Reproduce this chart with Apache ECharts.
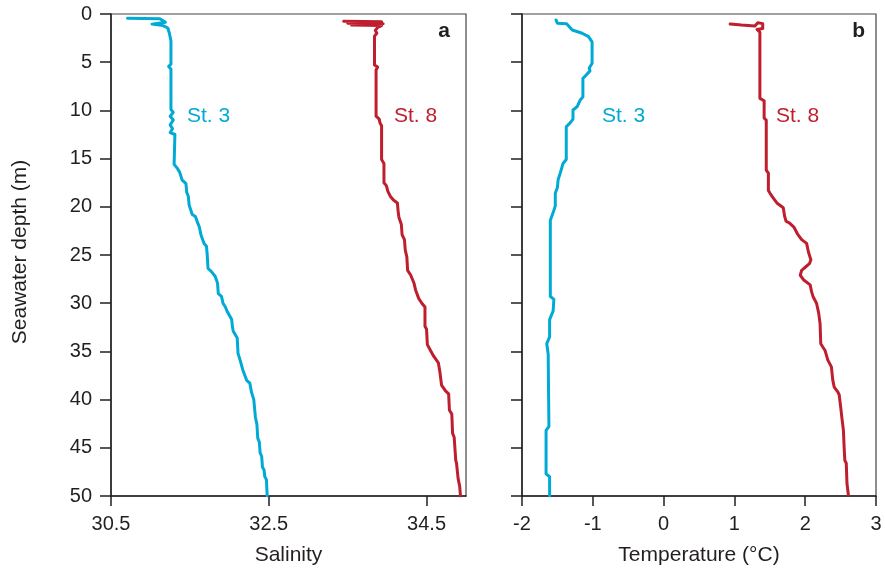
<!DOCTYPE html>
<html>
<head>
<meta charset="utf-8">
<script src="https://cdn.jsdelivr.net/npm/echarts@6/dist/echarts.min.js"></script>
<style>html,body{margin:0;padding:0;background:#fff;}#c{width:885px;height:571px;}</style>
</head>
<body>
<div id="c"></div>
<script>
// Depth ticks (m)
const depthTicks = [0,5,10,15,20,25,30,35,40,45,50];
const salinityTicks = [30.5, 32.5, 34.5];
const temperatureTicks = [-2,-1,0,1,2,3];

// Salinity profiles: [salinity, depth]
const salinitySt3 = [[30.71,0.45],[31.12,0.5],[31.19,0.85],[31.02,1.05],[31.16,1.2],[31.22,1.45],[31.24,2.0],[31.26,2.8],[31.28,3.0],[31.26,3.3],[31.26,5.2],[31.23,5.45],[31.26,5.7],[31.26,9.9],[31.29,10.2],[31.25,10.6],[31.29,11.0],[31.25,11.5],[31.28,11.9],[31.25,12.3],[31.31,12.5],[31.30,15.6],[31.34,16.0],[31.37,16.4],[31.40,17.2],[31.45,17.6],[31.46,18.5],[31.48,18.9],[31.49,19.8],[31.51,20.3],[31.53,20.8],[31.57,21.0],[31.60,21.7],[31.62,22.1],[31.64,22.9],[31.65,23.1],[31.68,23.8],[31.71,24.1],[31.72,25.0],[31.73,26.4],[31.77,26.7],[31.82,27.2],[31.85,27.9],[31.86,29.0],[31.90,29.3],[31.92,30.0],[31.95,30.4],[31.97,30.8],[31.99,31.0],[32.03,31.7],[32.04,32.5],[32.05,32.9],[32.10,33.6],[32.11,35.2],[32.14,36.0],[32.17,36.9],[32.22,38.0],[32.26,38.3],[32.28,39.2],[32.31,40.0],[32.33,41.8],[32.35,42.6],[32.36,44.0],[32.38,44.4],[32.39,45.5],[32.41,45.9],[32.42,47.0],[32.44,47.3],[32.45,48.0],[32.47,48.3],[32.48,50.0]];
const salinitySt8 = [[33.45,0.75],[33.93,0.8],[33.5,0.95],[33.95,1.0],[33.55,1.15],[33.93,1.2],[33.88,1.4],[33.85,1.7],[33.87,2.0],[33.84,2.3],[33.84,5.3],[33.88,5.5],[33.86,5.8],[33.86,10.6],[33.90,10.9],[33.91,11.3],[33.93,11.6],[33.93,15.1],[33.96,15.5],[33.96,17.5],[33.99,17.8],[34.01,18.4],[34.04,18.9],[34.08,19.3],[34.13,19.6],[34.14,20.5],[34.15,21.1],[34.18,21.8],[34.19,22.9],[34.22,23.4],[34.23,24.5],[34.25,25.2],[34.26,26.6],[34.30,27.1],[34.34,27.9],[34.36,28.6],[34.40,29.5],[34.44,30.0],[34.48,30.4],[34.48,32.4],[34.50,32.7],[34.51,34.3],[34.55,34.9],[34.59,35.5],[34.65,36.2],[34.67,37.2],[34.69,38.5],[34.74,39.1],[34.78,39.4],[34.79,41.1],[34.82,41.5],[34.83,43.5],[34.85,43.9],[34.87,46.3],[34.88,46.6],[34.90,48.2],[34.92,49.0],[34.93,50.0]];

// Temperature profiles: [temperature, depth]
const temperatureSt3 = [[-1.52,0.62],[-1.50,0.95],[-1.37,1.0],[-1.29,1.66],[-1.15,2.0],[-1.06,2.35],[-1.01,2.9],[-1.01,5.1],[-1.05,5.6],[-1.04,5.9],[-1.09,6.3],[-1.14,6.7],[-1.14,8.6],[-1.18,8.95],[-1.22,9.6],[-1.28,9.96],[-1.28,10.9],[-1.32,11.3],[-1.375,11.7],[-1.375,15.1],[-1.42,15.5],[-1.44,16.0],[-1.46,16.5],[-1.49,17.2],[-1.50,18.0],[-1.53,18.6],[-1.53,19.9],[-1.56,20.6],[-1.60,21.4],[-1.60,29.3],[-1.55,29.6],[-1.56,30.8],[-1.61,31.7],[-1.61,33.5],[-1.65,34.2],[-1.63,35.3],[-1.61,35.5],[-1.62,42.8],[-1.66,43.2],[-1.66,47.7],[-1.61,48.0],[-1.61,50.0]];
const temperatureSt8 = [[0.94,1.04],[1.1,1.15],[1.29,1.24],[1.33,0.9],[1.40,1.0],[1.40,1.5],[1.32,1.6],[1.36,1.9],[1.36,8.75],[1.42,9.0],[1.42,10.8],[1.45,11.0],[1.45,16.2],[1.48,16.5],[1.48,18.3],[1.52,18.8],[1.55,19.1],[1.60,19.6],[1.69,20.1],[1.71,21.0],[1.73,21.5],[1.78,21.7],[1.84,22.1],[1.89,22.8],[1.95,23.4],[2.02,23.8],[2.04,24.5],[2.05,24.8],[2.08,25.5],[2.06,25.9],[1.98,26.4],[1.95,26.6],[1.93,27.1],[1.98,27.6],[2.07,28.1],[2.09,28.8],[2.11,29.3],[2.16,30.0],[2.19,31.0],[2.21,32.1],[2.22,34.2],[2.28,34.9],[2.32,35.9],[2.37,36.6],[2.39,38.0],[2.41,38.7],[2.46,39.2],[2.48,39.5],[2.50,40.7],[2.52,42.0],[2.54,43.2],[2.55,45.0],[2.56,46.3],[2.58,46.6],[2.59,48.7],[2.61,49.9]];

const CYAN = '#00aad4';
const RED = '#be1e2d';
const INK = '#231f20';
const FONT = "'Liberation Sans', Arial, sans-serif";

const chart = echarts.init(document.getElementById('c'), null, {renderer: 'canvas'});

function xAxisCfg(idx, min, max, interval, ticks, name) {
  return {
    type: 'value', gridIndex: idx, position: 'bottom',
    min: min, max: max, interval: interval,
    name: name, nameLocation: 'middle', nameGap: 49,
    nameTextStyle: {fontFamily: FONT, fontSize: 21, color: INK},
    axisLine: {show: true, onZero: false, lineStyle: {color: INK, width: 1.5}},
    axisTick: {show: true, length: 10, lineStyle: {color: INK, width: 1.5},
      customValues: ticks},
    axisLabel: {show: true, margin: 18, fontFamily: FONT, fontSize: 20, color: INK,
      customValues: ticks,
      formatter: v => String(v)},
    splitLine: {show: false}
  };
}
function yAxisCfg(idx, showLabel) {
  return {
    type: 'value', gridIndex: idx, inverse: true,
    min: 0, max: 50, interval: 5,
    axisLine: {show: true, onZero: false, lineStyle: {color: INK, width: 1.5}},
    axisTick: {show: true, length: 11, lineStyle: {color: INK, width: 1.5}},
    axisLabel: {show: showLabel, margin: 19, fontFamily: FONT, fontSize: 20, color: INK},
    splitLine: {show: false}
  };
}
function lineSeries(xi, data, color) {
  return {
    type: 'line', xAxisIndex: xi, yAxisIndex: xi, data: data,
    showSymbol: false, symbol: 'none', smooth: false, animation: false,
    lineStyle: {color: color, width: 3, join: 'round', cap: 'round'},
    z: 3
  };
}

const texts = [
  {x: 187, y: 116, t: 'St. 3', c: CYAN, align: 'left', size: 21, w: 'normal'},
  {x: 394, y: 116, t: 'St. 8', c: RED, align: 'left', size: 21, w: 'normal'},
  {x: 602, y: 116, t: 'St. 3', c: CYAN, align: 'left', size: 21, w: 'normal'},
  {x: 776, y: 116, t: 'St. 8', c: RED, align: 'left', size: 21, w: 'normal'},
  {x: 450, y: 31, t: 'a', c: INK, align: 'right', size: 21, w: 'bold'},
  {x: 865, y: 31, t: 'b', c: INK, align: 'right', size: 21, w: 'bold'}
];

chart.setOption({
  animation: false,
  backgroundColor: '#fff',
  grid: [
    {left: 111, top: 14, width: 355, height: 482, show: true, borderColor: '#444', borderWidth: 1.2, backgroundColor: 'transparent'},
    {left: 522, top: 14, width: 354, height: 482, show: true, borderColor: '#444', borderWidth: 1.2, backgroundColor: 'transparent'}
  ],
  xAxis: [
    xAxisCfg(0, 30.5, 35, 2, salinityTicks, 'Salinity'),
    xAxisCfg(1, -2, 3, 1, temperatureTicks, 'Temperature (°C)')
  ],
  yAxis: [yAxisCfg(0, true), yAxisCfg(1, false)],
  series: [
    lineSeries(0, salinitySt3, CYAN),
    lineSeries(0, salinitySt8, RED),
    lineSeries(1, temperatureSt3, CYAN),
    lineSeries(1, temperatureSt8, RED)
  ],
  graphic: texts.map(o => ({
    type: 'text', x: o.x, y: o.y, z: 10,
    style: {text: o.t, fill: o.c, font: o.w + ' ' + o.size + 'px ' + FONT, textAlign: o.align, textVerticalAlign: 'middle'}
  })).concat([{
    type: 'text', x: 20, y: 252, rotation: Math.PI / 2, z: 10,
    style: {text: 'Seawater depth (m)', fill: INK, font: '21px ' + FONT, textAlign: 'center', textVerticalAlign: 'middle'}
  }])
});
</script>
</body>
</html>
